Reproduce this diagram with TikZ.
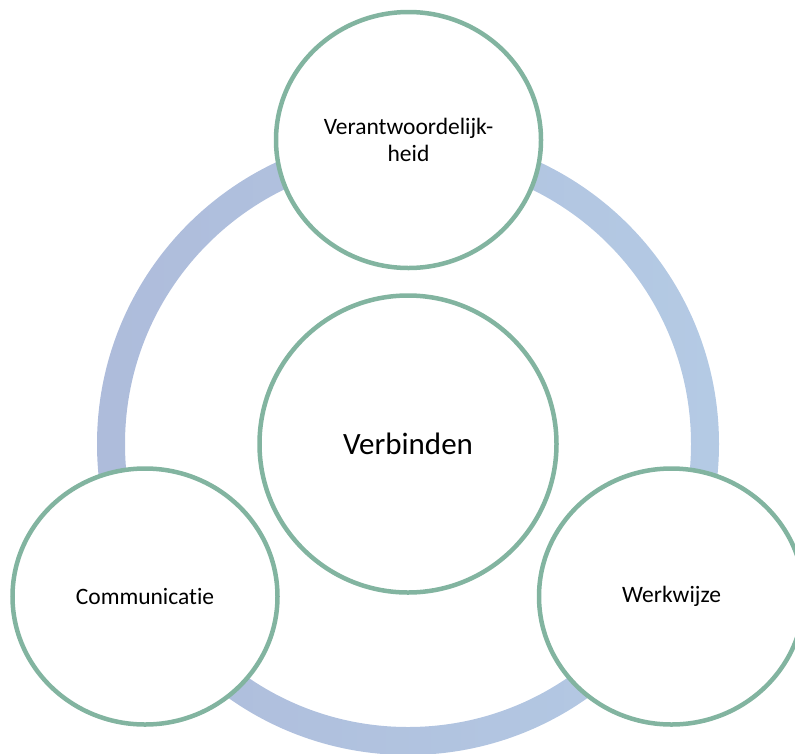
\documentclass[tikz,border=0pt]{standalone}
\usepackage{fontspec}
\setmainfont[Ligatures=NoCommon]{Carlito}
\usetikzlibrary{shapes.geometric}
\definecolor{ringL}{HTML}{AEBCDB}
\definecolor{ringR}{HTML}{B4CAE4}
\definecolor{edgegreen}{HTML}{82B4A0}
\begin{document}
\begin{tikzpicture}[x=1pt,y=-1pt,
  petal/.style={ellipse, draw=edgegreen, line width=4.5pt, fill=white,
    minimum width=265pt, minimum height=256pt, inner sep=0pt, align=center,
    font=\fontsize{23.5}{27}\selectfont},
  hub/.style={circle, draw=edgegreen, line width=4.5pt, fill=white,
    minimum size=297pt, inner sep=0pt, font=\fontsize{31}{36}\selectfont}]
\useasboundingbox (0,0) rectangle (795,753);
\clip (0,0) rectangle (795,753);
\coordinate (c) at (408,444);
\shade[left color=ringL, right color=ringR, even odd rule]
  (c) circle (311pt) (c) circle (283pt);
\node[petal] (top) at (408.5,140) {Verantwoordelijk-\\heid};
\node[petal] (left) at (145,596.5) {Communicatie};
\node[petal] (right) at (671.5,596.5) {Werkwijze};
\node[hub] (hub) at (408,444) {Verbinden};
\end{tikzpicture}
\end{document}
